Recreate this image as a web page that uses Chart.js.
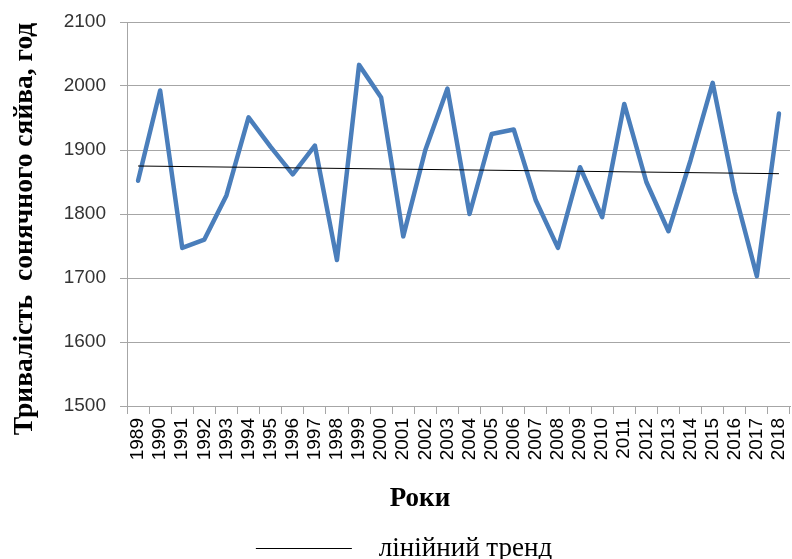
<!DOCTYPE html>
<html>
<head>
<meta charset="utf-8">
<script src="https://cdn.jsdelivr.net/npm/chart.js@4.4.0/dist/chart.umd.min.js"></script>
<style>
  html, body { margin: 0; padding: 0; background: #fff; }
  #wrap { width: 792px; height: 559px; }
</style>
</head>
<body>
<div id="wrap"><canvas id="sunChart"></canvas></div>
<script>
// years on the x axis
const years = ['1989', '1990', '1991', '1992', '1993', '1994', '1995', '1996', '1997', '1998',
  '1999', '2000', '2001', '2002', '2003', '2004', '2005', '2006', '2007', '2008',
  '2009', '2010', '2011', '2012', '2013', '2014', '2015', '2016', '2017', '2018'];

// sunshine duration, hours
const sunHours = [1852, 1993, 1747, 1760, 1829, 1951, 1905, 1862, 1907, 1728,
  2033, 1982, 1765, 1900, 1996, 1800, 1925, 1932, 1821, 1747,
  1873, 1795, 1972, 1850, 1773, 1884, 2005, 1834, 1703, 1957];

// linear trend, start and end values
const trendStart = 1875;
const trendEnd = 1863;

const yTicks = [1500, 1600, 1700, 1800, 1900, 2000, 2100];

const gridGray = '#a6a6a6';

// axis titles are drawn by hand so they sit where they sit in the original
const titlesPlugin = {
  id: 'axisTitles',
  afterDraw(chart) {
    const c = chart.ctx;
    c.save();
    c.fillStyle = '#000';
    c.textAlign = 'center';
    c.textBaseline = 'middle';
    c.font = 'bold 27px "Liberation Serif"';
    c.fillText('Роки', 420, 499);
    c.translate(25, 229);
    c.rotate(-Math.PI / 2);
    c.font = 'bold 27.5px "Liberation Serif"';
    c.fillText('Тривалість  сонячного сяйва, год', 0, 0);
    c.restore();
  }
};

new Chart(document.getElementById('sunChart'), {
  type: 'line',
  data: {
    labels: years,
    datasets: [
      {
        label: '  лінійний тренд',
        data: [{ x: years[0], y: trendStart }, { x: years[years.length - 1], y: trendEnd }],
        borderColor: '#000',
        backgroundColor: '#000',
        borderWidth: 1,
        pointRadius: 0,
        pointStyle: 'line',
        order: 0
      },
      {
        label: 'sun',
        data: sunHours,
        borderColor: '#4a7ebb',
        borderWidth: 4.5,
        borderJoinStyle: 'round',
        borderCapStyle: 'round',
        pointRadius: 0,
        tension: 0,
        order: 1
      }
    ]
  },
  options: {
    responsive: true,
    maintainAspectRatio: false,
    animation: false,
    layout: { padding: { top: 22, right: 2, left: 18, bottom: -13 } },
    plugins: {
      tooltip: { enabled: false },
      legend: {
        position: 'bottom',
        labels: {
          filter: item => item.text.trim() === 'лінійний тренд',
          usePointStyle: true,
          pointStyleWidth: 96,
          padding: 0,
          color: '#000',
          font: { family: '"Liberation Serif"', size: 27 }
        }
      }
    },
    scales: {
      x: {
        offset: true,
        grid: {
          offset: true,
          drawOnChartArea: false,
          drawTicks: true,
          tickLength: 8,
          color: gridGray
        },
        border: { color: gridGray },
        ticks: {
          autoSkip: false,
          maxRotation: 90,
          minRotation: 90,
          padding: 4,
          color: '#000',
          font: { family: '"Liberation Sans"', size: 19 }
        },
        afterFit(scale) {
          scale.height = 129;
          scale.paddingLeft = 0;
          scale.paddingRight = 0;
        }
      },
      y: {
        min: 1500,
        max: 2100,
        afterBuildTicks(scale) { scale.ticks = yTicks.map(v => ({ value: v })); },
        grid: { color: gridGray, tickLength: 7 },
        border: { color: gridGray },
        ticks: {
          padding: 14,
          color: '#333',
          font: { family: '"Liberation Sans"', size: 19 },
          callback: v => String(v)
        },
        afterFit(scale) {
          scale.width = 109;
          scale.paddingTop = 0;
          scale.paddingBottom = 0;
        }
      }
    }
  },
  plugins: [titlesPlugin]
});
</script>
</body>
</html>
